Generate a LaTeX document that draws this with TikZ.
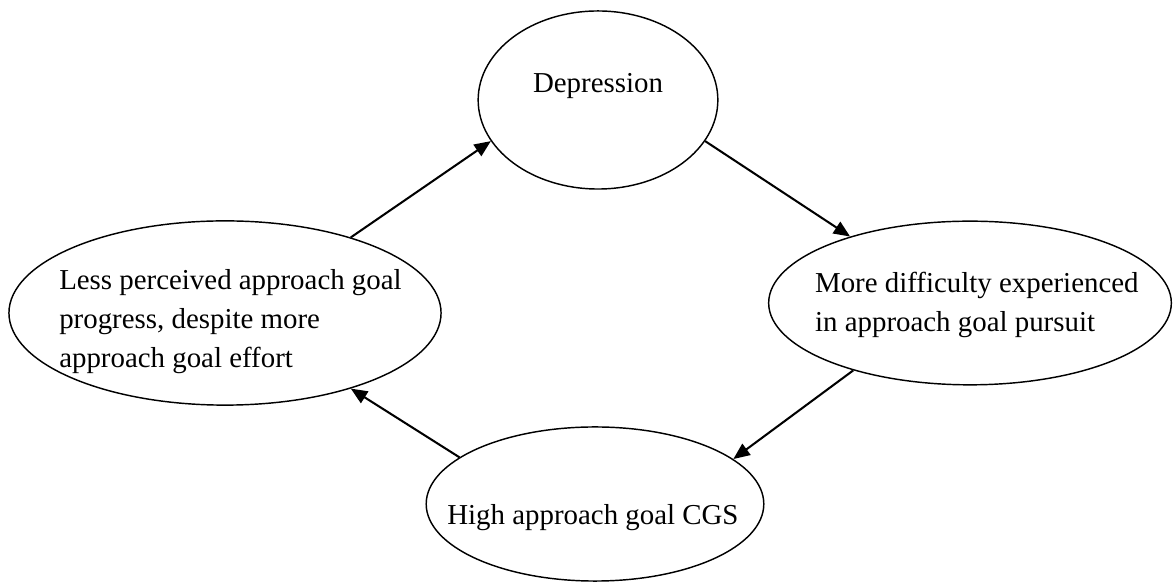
\documentclass[tikz,border=0pt]{standalone}
\usepackage{fontspec}
\setmainfont{Liberation Serif}
\usetikzlibrary{shapes.geometric,arrows.meta}
\begin{document}
\begin{tikzpicture}[x=0.0146cm,y=0.0146cm,
    bubble/.style={ellipse,draw,line width=0.6pt,inner sep=0},
    caption/.style={align=left,font=\fontsize{12}{16.2}\selectfont,inner sep=0},
    link/.style={line width=0.85pt,-{Triangle[length=0.24cm,width=0.2cm]}}]
    \useasboundingbox (0,0) rectangle (1173,583);

    \node[bubble,minimum width=3.50cm,minimum height=2.60cm] (dep) at (598,483) {};
    \node[caption] (deptext) at ([yshift=0.2cm]dep.center) {Depression};

    \node[bubble,minimum width=6.31cm,minimum height=2.69cm] (prog) at (225,270) {};
    \node[caption] (progtext) at ([xshift=0.08cm,yshift=-0.12cm]prog.center)
      {Less perceived approach goal\\progress, despite more\\approach goal effort};

    \node[bubble,minimum width=5.88cm,minimum height=2.39cm] (diff) at (970,280) {};
    \node[caption] (difftext) at ([xshift=0.1cm,yshift=-0.03cm]diff.center)
      {More difficulty experienced\\in approach goal pursuit};

    \node[bubble,minimum width=4.93cm,minimum height=2.25cm] (cgs) at (595,79) {};
    \node[caption] (cgstext) at ([xshift=-0.03cm,yshift=-0.2cm]cgs.center) {High approach goal CGS};

    \draw[link] (prog.31) -- (dep.201);
    \draw[link] (dep.339) -- (diff.151);
    \draw[link] (diff.210) -- (cgs.18);
    \draw[link] (cgs.161) -- (prog.329);

  \end{tikzpicture}
\end{document}
